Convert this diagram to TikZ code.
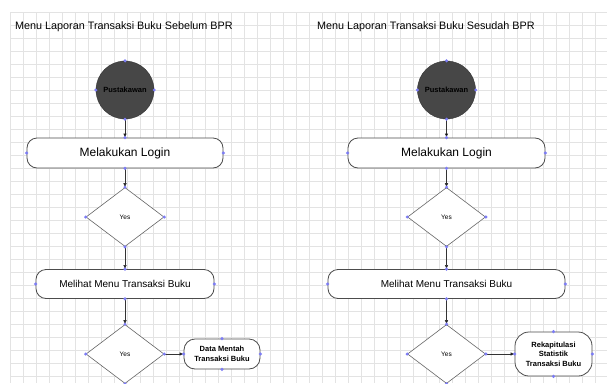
\documentclass[tikz,border=0pt]{standalone}
\usepackage{fontspec}
\setmainfont{Liberation Sans}
\usetikzlibrary{shapes.geometric,arrows.meta}
\definecolor{pinblue}{RGB}{125,125,245}

\begin{document}
\begin{tikzpicture}[x=1pt,y=1pt,>={Latex[length=4pt,width=3.5pt]}]
\tikzstyle{start}=[circle,draw=black!80,fill=black!72,minimum size=58pt,inner sep=0pt,font=\fontsize{7.5}{9}\selectfont\bfseries]
\tikzstyle{proc}=[rectangle,rounded corners=10pt,draw=black!70,line width=0.8pt,fill=white,minimum height=30pt,inner sep=1pt]
\tikzstyle{cek}=[diamond,aspect=1.32,draw=black!60,line width=0.6pt,fill=white,minimum width=78pt,minimum height=59pt,inner sep=0pt,font=\fontsize{6.5}{8}\selectfont]
\tikzstyle{hasil}=[rectangle,rounded corners=11pt,draw=black!70,line width=0.8pt,fill=white,align=center,inner sep=1pt,font=\fontsize{7.5}{9.5}\selectfont\bfseries]
\tikzstyle{judul}=[anchor=west,inner sep=0pt,font=\fontsize{10.8}{12}\selectfont]

\useasboundingbox (0,0) rectangle (607,-383);
\fill[white] (0,0) rectangle (607,-383);
% background grid
\draw[black!11,line width=0.4pt,step=13,shift={(10,-12)}] (0,0) grid (597,-371);

\begin{scope}
    % Sebelum BPR
    \node [judul] (judul_a) at (15,-27) {Menu Laporan Transaksi Buku Sebelum BPR};
    \node [start] (pus_a) at (125,-90) {Pustakawan};
    \node [proc,below of=pus_a,node distance=63pt,minimum width=196pt,font=\fontsize{12}{14}\selectfont] (login_a) {Melakukan Login};
    \node [cek,below of=login_a,node distance=64pt] (cek_a) {Yes};
    \node [proc,below of=cek_a,node distance=67pt,minimum width=178pt,minimum height=29pt,font=\fontsize{10}{12}\selectfont] (menu_a) {Melihat Menu Transaksi Buku};
    \node [cek,below of=menu_a,node distance=70pt] (cek2_a) {Yes};
    \node [hasil,right of=cek2_a,node distance=97pt,minimum width=76pt,minimum height=30pt] (data_a) {Data Mentah\\Transaksi Buku};

    % Sesudah BPR
    \node [judul] (judul_b) at (317,-27) {Menu Laporan Transaksi Buku Sesudah BPR};
    \node [start] (pus_b) at (446.5,-90) {Pustakawan};
    \node [proc,below of=pus_b,node distance=63pt,minimum width=197pt,font=\fontsize{12}{14}\selectfont] (login_b) {Melakukan Login};
    \node [cek,below of=login_b,node distance=64pt] (cek_b) {Yes};
    \node [proc,below of=cek_b,node distance=67pt,minimum width=237pt,minimum height=29pt,font=\fontsize{10}{12}\selectfont] (menu_b) {Melihat Menu Transaksi Buku};
    \node [cek,below of=menu_b,node distance=70pt] (cek2_b) {Yes};
    \node [hasil,right of=cek2_b,node distance=107pt,minimum width=77pt,minimum height=44pt,rounded corners=14pt] (rekap_b) {Rekapitulasi\\Statistik\\Transaksi Buku};

    % flow
    \path[->,draw=black!80,line width=0.6pt] (pus_a) edge (login_a)
        (login_a) edge (cek_a)
        (cek_a) edge (menu_a)
        (menu_a) edge (cek2_a)
        (cek2_a) edge (data_a);
    \path[->,draw=black!80,line width=0.6pt] (pus_b) edge (login_b)
        (login_b) edge (cek_b)
        (cek_b) edge (menu_b)
        (menu_b) edge (cek2_b)
        (cek2_b) edge (rekap_b);

    % connection points
    \foreach \n in {pus_a,login_a,cek_a,menu_a,cek2_a,data_a,pus_b,login_b,cek_b,menu_b,cek2_b,rekap_b}
        \foreach \a in {north,south,east,west}
            \fill[pinblue] (\n.\a) circle (1.7pt);
\end{scope}
\end{tikzpicture}
\end{document}
